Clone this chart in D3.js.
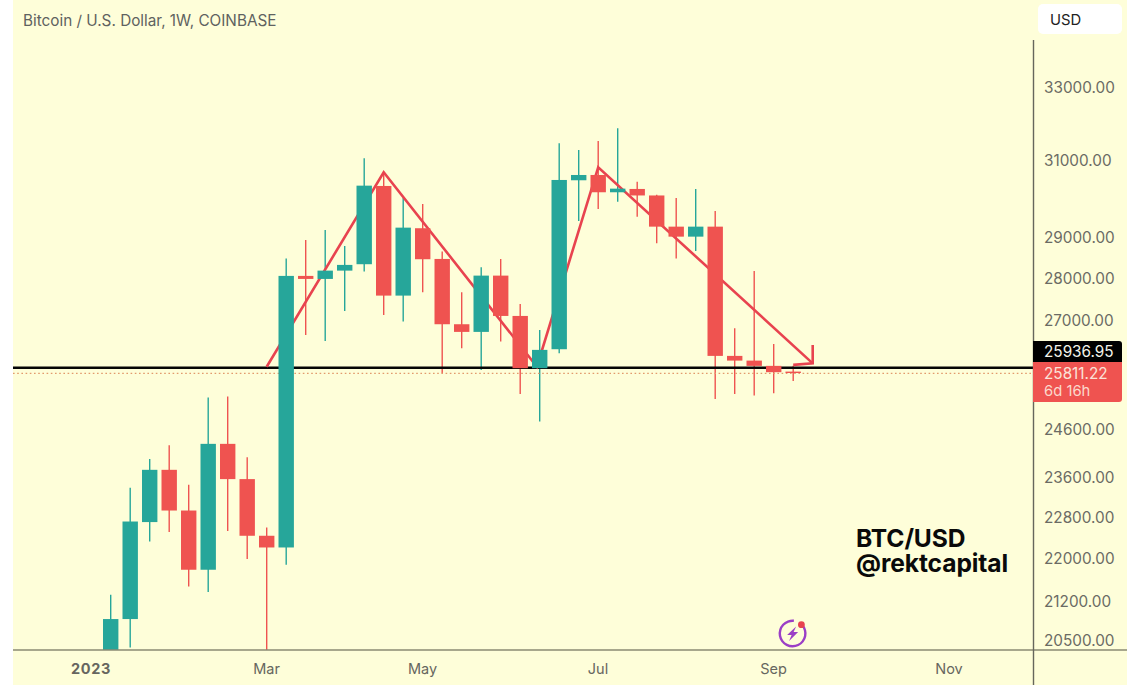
<!DOCTYPE html>
<html>
<head>
<meta charset="utf-8">
<script src="https://cdn.jsdelivr.net/npm/d3@7/dist/d3.min.js"></script>
<style>
html,body{margin:0;padding:0;background:#fff;overflow:hidden}
svg{display:block}
text{font-family:Inter,"Noto Sans",sans-serif}
</style>
</head>
<body>
<svg id="chart" width="1140" height="694"></svg>
<script>
const weeks = ["2023-01-09","2023-01-16","2023-01-23","2023-01-30","2023-02-06","2023-02-13","2023-02-20","2023-02-27","2023-03-06","2023-03-13","2023-03-20","2023-03-27","2023-04-03","2023-04-10","2023-04-17","2023-04-24","2023-05-01","2023-05-08","2023-05-15","2023-05-22","2023-05-29","2023-06-05","2023-06-12","2023-06-19","2023-06-26","2023-07-03","2023-07-10","2023-07-17","2023-07-24","2023-07-31","2023-08-07","2023-08-14","2023-08-21","2023-08-28","2023-09-04","2023-09-11"];
const opens  = [20200,20891,22710,23755,22937,21797,24292,23566,22444,22219,28071,27998,28199,28355,30331,27599,29247,28484,26927,26750,28078,27120,25927,26354,30480,30619,30167,30253,30084,29287,29036,29287,26203,26097,25979,25851];
const highs  = [21333,23390,23975,24265,23450,25280,25301,24016,22604,28492,28953,29204,28805,31063,30685,30019,29865,28664,27680,28282,28484,27402,26796,31466,31285,31529,31875,30444,30100,30019,30253,29685,26835,28192,26475,25979];
const lows   = [20150,20387,22334,22515,21486,21382,22534,21998,19800,21891,26681,26543,27238,28175,27144,26988,27680,25816,26377,25889,26527,25360,24763,26264,29431,29736,29924,29540,28872,28492,28681,25251,25360,25323,25375,25645];
const closes = [20891,22721,23755,22937,21797,24292,23566,22444,22219,28071,27998,28199,28338,30339,27599,29262,28477,26927,26750,28078,27120,25927,26339,30488,30619,30167,30261,30084,29287,29036,29287,26203,26097,25979,25838,25822];

const priceTicks = [33000,31000,29000,28000,27000,24600,23600,22800,22000,21200,20500];
const timeTicks = ["2023-01-02","2023-03-06","2023-05-01","2023-07-03","2023-09-04","2023-11-06"];
const timeLabels = ["2023","Mar","May","Jul","Sep","Nov"];

const supportLevel = 25936.95;
const lastPrice = 25811.22;
const countdown = "6d 16h";

const patternDates = ["2023-03-06","2023-04-17","2023-06-11","2023-07-03","2023-09-18"];
const patternPrices = [25960,30692,25960,30823,26035];
const arrowDates = ["2023-09-18","2023-09-18","2023-09-11"];
const arrowPrices = [26452,26035,26001];

const W = 1140, H = 694;
const GREEN = "#26a69a", RED = "#ef5350", BG = "#fefed9", PATTERN = "#e8434f";
const left = 13, right = 1127, axisX = 1033.5, axisY = 650;
const parse = d3.utcParse("%Y-%m-%d");

const x = d3.scaleUtc().domain([parse("2023-01-02"), parse("2023-11-06")]).range([91.2, 949.2]);
const y = d3.scaleLog().domain([33000, 20500]).range([88, 641]);
const bodyW = 15.4;

const svg = d3.select("#chart");
svg.append("rect").attr("x", left).attr("y", 0).attr("width", right-left).attr("height", 685).attr("fill", BG);

const defs = svg.append("defs");
defs.append("clipPath").attr("id","plot").append("rect")
  .attr("x", left).attr("y", 0).attr("width", axisX-left).attr("height", axisY);

// title
svg.append("text").attr("x", 23).attr("y", 26).attr("font-size", 15.3).attr("fill", "#5f6260")
  .text("Bitcoin / U.S. Dollar, 1W, COINBASE");

const plot = svg.append("g").attr("clip-path","url(#plot)");
const candles = weeks.map((w,i)=>({date:parse(w),o:opens[i],h:highs[i],l:lows[i],c:closes[i]}));
const col = d => d.c >= d.o ? GREEN : RED;

// wicks
plot.append("g").selectAll("line").data(candles).join("line")
  .attr("x1",d=>x(d.date)).attr("x2",d=>x(d.date))
  .attr("y1",d=>y(d.h)).attr("y2",d=>y(d.l)).attr("stroke",col).attr("stroke-width",1.4);

// last price dotted line
plot.append("line").attr("x1",left).attr("x2",axisX).attr("y1",y(lastPrice)).attr("y2",y(lastPrice))
  .attr("stroke","#e29a6c").attr("stroke-width",1.3).attr("stroke-dasharray","1.6 2.6");
// support line
plot.append("line").attr("x1",left).attr("x2",axisX).attr("y1",y(supportLevel)).attr("y2",y(supportLevel))
  .attr("stroke","#050505").attr("stroke-width",2.6);

// drawn pattern
const lineGen = d3.line().x(d => x(parse(d[0]))).y(d => y(d[1]));
plot.append("path").attr("d", lineGen(d3.zip(patternDates, patternPrices)))
  .attr("fill","none").attr("stroke",PATTERN).attr("stroke-width",2.6);
plot.append("path").attr("d", lineGen(d3.zip(arrowDates, arrowPrices)))
  .attr("fill","none").attr("stroke",PATTERN).attr("stroke-width",2.6);

// candle bodies
plot.append("g").selectAll("rect").data(candles).join("rect")
  .attr("x",d=>x(d.date)-bodyW/2).attr("width",bodyW)
  .attr("y",d=>y(Math.max(d.o,d.c))).attr("height",d=>Math.max(1.4,Math.abs(y(d.o)-y(d.c))))
  .attr("fill",col);

// axes frame
svg.append("line").attr("x1",left).attr("x2",right).attr("y1",axisY).attr("y2",axisY).attr("stroke","#8a8a72").attr("stroke-width",1.6);
svg.append("line").attr("x1",axisX).attr("x2",axisX).attr("y1",40).attr("y2",685).attr("stroke","#66665c").attr("stroke-width",1.4);

// price axis
const yAxis = d3.axisRight(y).tickValues(priceTicks).tickSize(0).tickPadding(0).tickFormat(d3.format(".2f"));
const yG = svg.append("g").attr("transform","translate(1044,0)").call(yAxis);
yG.select(".domain").remove();
yG.selectAll("text").attr("font-size",15.3).attr("fill","#6b6b64").attr("font-family","Inter,sans-serif");

// time axis
const xAxis = d3.axisBottom(x).tickValues(timeTicks.map(parse)).tickSize(0).tickPadding(0)
  .tickFormat((d,i)=>timeLabels[i]);
const xG = svg.append("g").attr("transform","translate(-0.7,664)").call(xAxis);
xG.select(".domain").remove();
xG.selectAll("text").attr("font-size",14.5).attr("fill","#66665f").attr("font-family","Inter,sans-serif")
  .attr("font-weight",(d,i)=>i===0?700:400).attr("letter-spacing",(d,i)=>i===0?0.6:0);

// USD box
svg.append("rect").attr("x",1038).attr("y",4).attr("width",84).attr("height",30).attr("rx",5).attr("fill","#fff");
svg.append("text").attr("x",1050).attr("y",24.5).attr("font-size",14.8).attr("fill","#222").text("USD");

// price labels
svg.append("path").attr("d","M1033,362 H1122 V399 a3,3 0 0 1 -3,3 H1033 Z").attr("fill",RED);
svg.append("path").attr("d","M1033,341 H1119 a3,3 0 0 1 3,3 V362 H1033 Z").attr("fill","#000");
svg.append("text").attr("x",1044).attr("y",357).attr("font-size",15.3).attr("fill","#f4f4ea").text(d3.format(".2f")(supportLevel));
svg.append("text").attr("x",1044).attr("y",378.5).attr("font-size",15.3).attr("fill","#fbe3d8").text(d3.format(".2f")(lastPrice));
svg.append("text").attr("x",1044).attr("y",396).attr("font-size",14.8).attr("fill","#fbd9cc").text(countdown);

// watermark text: one text element, two lines
const wm = svg.append("text").attr("font-size",24.6).attr("font-weight",700).attr("fill","#0a0a0a").attr("letter-spacing",-0.1);
wm.append("tspan").attr("x",856).attr("y",546.5).text("BTC/USD");
wm.append("tspan").attr("x",856).attr("y",572).text("@rektcapital");

// lightning badge
const badge = svg.append("g").attr("transform","translate(792.6,633.5)");
badge.append("path").attr("d",d3.arc().innerRadius(11.6).outerRadius(14).startAngle(0.85).endAngle(Math.PI*2+0.1)())
  .attr("fill","#9b3fc6");
badge.append("path").attr("d","M3.5,-7 L-5.5,1.5 L-1,1.5 L-3.5,7.5 L5.5,-1.5 L1,-1.5 Z").attr("fill","#9b3fc6");
badge.append("circle").attr("cx",8.8).attr("cy",-8.8).attr("r",3.4).attr("fill","#e8434f");
</script>
</body>
</html>
